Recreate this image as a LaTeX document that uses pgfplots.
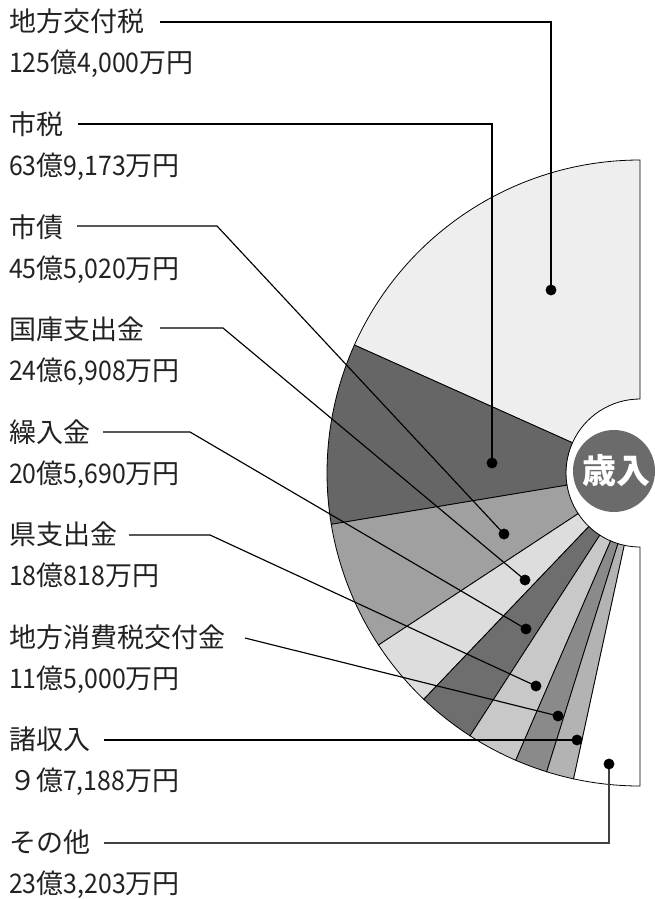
\documentclass[border=0pt]{standalone}
\usepackage{pgfplots}
\pgfplotsset{compat=1.18}
\usepackage{pgfplotstable}
\usepackage{fontspec}
\setmainfont{Noto Sans CJK JP}
\newfontfamily\numfont{Noto Sans CJK JP}[FakeStretch=0.92]
\newcommand\N[1]{{\numfont #1}}
\newcommand\lab{\fontsize{27}{30}\selectfont}

\definecolor{cA}{HTML}{EDEEED}
\definecolor{cB}{HTML}{666666}
\definecolor{cC}{HTML}{A0A0A0}
\definecolor{cD}{HTML}{DCDDDC}
\definecolor{cE}{HTML}{6E6E6E}
\definecolor{cF}{HTML}{C8C8C8}
\definecolor{cG}{HTML}{8A8A8A}
\definecolor{cH}{HTML}{B3B3B3}
\definecolor{cI}{HTML}{FFFFFF}
\definecolor{cCenter}{HTML}{6B6B6B}
\definecolor{txt}{HTML}{222222}

% 歳入 (億円)
\pgfplotstableread{
key value
a 125.4
b 63.9173
c 45.502
d 24.6908
e 20.569
f 18.0818
g 11.5
h 9.7188
i 23.3203
}\revtable

\gdef\cumT{0}
\foreach \i/\n in {0/a,1/b,2/c,3/d,4/e,5/f,6/g,7/h,8/i}{%
  \pgfplotstablegetelem{\i}{value}\of\revtable
  \pgfmathsetmacro\tmp{\cumT+\pgfplotsretval}%
  \global\let\cumT\tmp
  \expandafter\xdef\csname cum\n\endcsname{\tmp}%
}
\foreach \n in {a,b,c,d,e,f,g,h,i}{%
  \pgfmathsetmacro\tmp{90+(\csname cum\n\endcsname/\cumT)*180}%
  \expandafter\xdef\csname ang\n\endcsname{\tmp}%
}

\newcommand\seg[3]{%
  \filldraw[fill=#3,draw=black,line width=0.8pt]
    (axis cs:{640+313*cos(#1)},{473-313*sin(#1)})
    arc[start angle=#1,end angle=#2,radius=313pt]
    -- (axis cs:{640+74*cos(#2)},{473-74*sin(#2)})
    arc[start angle=#2,end angle=#1,radius=74pt] -- cycle;}

\begin{document}
\begin{tikzpicture}
\begin{axis}[
  scale only axis, width=654pt, height=899pt,
  xmin=0, xmax=654, ymin=0, ymax=899, y dir=reverse,
  hide axis, clip=false]

\seg{90}{\anga}{cA}
\seg{\anga}{\angb}{cB}
\seg{\angb}{\angc}{cC}
\seg{\angc}{\angd}{cD}
\seg{\angd}{\ange}{cE}
\seg{\ange}{\angf}{cF}
\seg{\angf}{\angg}{cG}
\seg{\angg}{\angh}{cH}
\seg{\angh}{270}{cI}

\fill[cCenter] (axis cs:614,471) circle[radius=41pt];
\node[text=white, font=\bfseries\fontsize{34}{34}\selectfont, inner sep=0pt] at (axis cs:616,471) {歳入};

% leader lines
\addplot[black, line width=1.15pt] coordinates {(160,22) (551,22) (551,290)};
\addplot[black, line width=1.15pt] coordinates {(78,124) (492,124) (492,463)};
\addplot[black, line width=1.15pt] coordinates {(77,226) (217,226) (504,534)};
\addplot[black, line width=1.15pt] coordinates {(160,328) (223,328) (525,580)};
\addplot[black, line width=1.15pt] coordinates {(103,432) (190,432) (526,629)};
\addplot[black, line width=1.15pt] coordinates {(129,535) (210,535) (536,686)};
\addplot[black, line width=1.15pt] coordinates {(245,638) (558,716)};
\addplot[black, line width=1.15pt] coordinates {(104,740) (577,740)};
\addplot[black!75, line width=1.15pt] coordinates {(104,843) (609,843) (609,764)};

\addplot[only marks, mark=*, mark size=5.2pt, black] coordinates {
(551,290) (492,463) (504,534) (525,580) (526,629) (536,686) (558,716) (577,740) (609,764)};

% labels
\begin{scope}[every node/.style={anchor=base west, inner sep=0pt, font=\lab, text=txt}]
\node at (axis cs:9,32)  {地方交付税};
\node at (axis cs:9,73)  {\N{125}億\N{4,000}万円};
\node at (axis cs:9,134.5) {市税};
\node at (axis cs:9,175.5) {\N{63}億\N{9,173}万円};
\node at (axis cs:9,237) {市債};
\node at (axis cs:9,278) {\N{45}億\N{5,020}万円};
\node at (axis cs:9,339.5) {国庫支出金};
\node at (axis cs:9,380.5) {\N{24}億\N{6,908}万円};
\node at (axis cs:9,442) {繰入金};
\node at (axis cs:9,483) {\N{20}億\N{5,690}万円};
\node at (axis cs:9,544.5) {県支出金};
\node at (axis cs:9,585.5) {\N{18}億\N{818}万円};
\node at (axis cs:9,647) {地方消費税交付金};
\node at (axis cs:9,688) {\N{11}億\N{5,000}万円};
\node at (axis cs:9,749.5) {諸収入};
\node at (axis cs:9,790.5) {９億\N{7,188}万円};
\node at (axis cs:9,852) {その他};
\node at (axis cs:9,893) {\N{23}億\N{3,203}万円};
\end{scope}
\end{axis}
\pgfresetboundingbox
\path (current axis.south west) rectangle (current axis.north east);
\end{tikzpicture}
\end{document}
